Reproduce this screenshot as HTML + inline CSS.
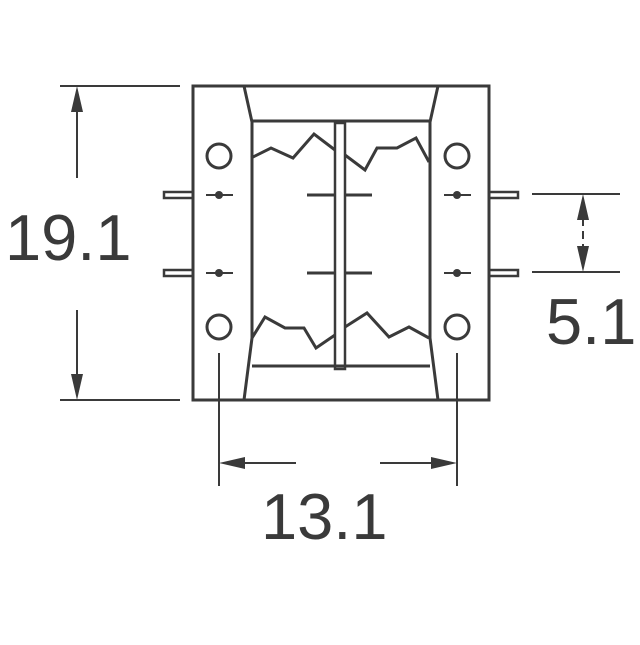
<!DOCTYPE html>
<html><head><style>body{margin:0;background:#fff}</style></head><body>
<svg width="640" height="640" viewBox="0 0 640 640" xmlns="http://www.w3.org/2000/svg">
<rect width="640" height="640" fill="#fff"/>
<g stroke="#3a3a3a" stroke-width="3" fill="none">
<rect x="193" y="86" width="296" height="314"/>
<polyline points="244,86 252,122 252,338 244,400"/>
<polyline points="438,86 430,122 430,338 438,400"/>
<line x1="252" y1="121" x2="430" y2="121"/>
<line x1="252" y1="366" x2="430" y2="366"/>
<rect x="335" y="123" width="10" height="246" stroke-width="2.5"/>
<circle cx="219" cy="156" r="12"/><circle cx="219" cy="327" r="12"/>
<circle cx="457" cy="156" r="12"/><circle cx="457" cy="327" r="12"/>
<rect x="164" y="192" width="29" height="6" stroke-width="2.5"/>
<rect x="164" y="270" width="29" height="6" stroke-width="2.5"/>
<rect x="489" y="192" width="29" height="6" stroke-width="2.5"/>
<rect x="489" y="270" width="29" height="6" stroke-width="2.5"/>
<g stroke-width="2">
<line x1="206" y1="195" x2="233" y2="195"/><line x1="206" y1="273" x2="233" y2="273"/>
<line x1="444" y1="195" x2="471" y2="195"/><line x1="444" y1="273" x2="471" y2="273"/>
</g>
<line x1="307" y1="195" x2="334" y2="195"/><line x1="346" y1="195" x2="372" y2="195"/>
<line x1="307" y1="273" x2="334" y2="273"/><line x1="346" y1="273" x2="372" y2="273"/>
<polyline points="251,158 271,148 293,158 314,134 335,150"/>
<polyline points="345,155 365,170 377,148 397,148 416,138 429,162"/>
<polyline points="252,338 265,317 285,328 304,328 316,348 335,335"/>
<polyline points="345,327 367,313 389,337 409,327 429,338"/>
<g stroke-width="2">
<line x1="219" y1="353" x2="219" y2="486"/><line x1="457" y1="353" x2="457" y2="486"/>
<line x1="60" y1="86" x2="180" y2="86"/><line x1="60" y1="400" x2="180" y2="400"/>
<line x1="77" y1="100" x2="77" y2="178"/><line x1="77" y1="310" x2="77" y2="386"/>
<line x1="532" y1="194" x2="620" y2="194"/><line x1="532" y1="272" x2="620" y2="272"/>
<line x1="583" y1="205" x2="583" y2="262" stroke-dasharray="8,5"/>
<line x1="232" y1="463" x2="296" y2="463"/><line x1="380" y1="463" x2="444" y2="463"/>
</g>
</g>
<g fill="#3a3a3a">
<circle cx="219" cy="195" r="4"/><circle cx="219" cy="273" r="4"/>
<circle cx="457" cy="195" r="4"/><circle cx="457" cy="273" r="4"/>
<polygon points="77,86 71,112 83,112"/><polygon points="77,400 71,374 83,374"/>
<polygon points="583,194 577,220 589,220"/><polygon points="583,272 577,246 589,246"/>
<polygon points="219,463 245,457 245,469"/><polygon points="457,463 431,457 431,469"/>
</g>
<g font-family="Liberation Sans, sans-serif" font-size="65" fill="#3a3a3a">
<text x="5" y="260">19.1</text>
<text x="546" y="344">5.1</text>
<text x="261" y="539">13.1</text>
</g>
</svg>
</body></html>
